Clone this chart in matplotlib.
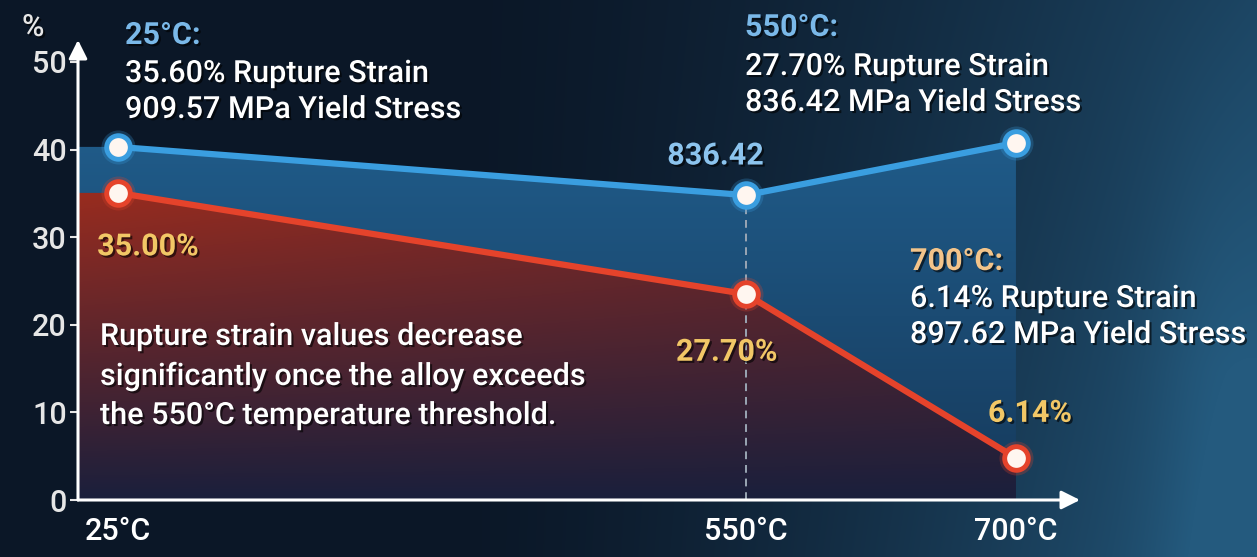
import numpy as np
import matplotlib.pyplot as plt
from matplotlib.patches import Polygon
from matplotlib import patheffects as pe

plt.rcParams['font.family'] = ['Roboto', 'DejaVu Sans']
plt.rcParams['font.weight'] = 'medium'

# data
temps = ["25°C", "550°C", "700°C"]
blue_y = [40.3, 34.8, 40.75]      # yield stress line (plotted height)
red_y = [35.05, 23.5, 4.8]        # rupture strain line (plotted height)
strain_labels = ["35.00%", "27.70%", "6.14%"]
stress_label = "836.42"
yticks = [0, 10, 20, 30, 40, 50]

# layout (figure pixels)
W, H = 1257, 557
x_pos = [0.0, 1.0, 1.43]
XLIM = (-0.0637, 1.532)
YLIM = (0, 52.5)

fig = plt.figure(figsize=(W / 100, H / 100), dpi=100)

# background gradient
bg = fig.add_axes([0, 0, 1, 1])
gx, gy = np.meshgrid(np.linspace(0, 1, W), np.linspace(0, 1, H))
dark = np.array([0x0b, 0x17, 0x27]) / 255
light = np.array([0x24, 0x5a, 0x7e]) / 255
t = np.clip((gx - 0.35) / 0.65, 0, 1) ** 1.5 * (0.7 + 0.3 * gy)
t += 0.15 * np.exp(-((gx - 0.97) ** 2) / 0.003) * np.clip(gy * 1.5, 0, 1)
t = np.clip(t, 0, 1)
img = dark * (1 - t[..., None]) + light * t[..., None]
bg.imshow(img, aspect='auto', extent=[0, 1, 0, 1], origin='upper')
bg.axis('off')

ax = fig.add_axes([78 / W, 57 / H, 1002 / W, 460 / H])
ax.patch.set_alpha(0)
ax.set_xlim(*XLIM)
ax.set_ylim(*YLIM)

# blue area under the yield stress line
bx = [XLIM[0]] + x_pos + [x_pos[-1], XLIM[0]]
by = [blue_y[0]] + blue_y + [0, 0]
blue_poly = Polygon(np.column_stack([bx, by]), closed=True, facecolor='none', edgecolor='none')
ax.add_patch(blue_poly)
u = np.linspace(0, 1, 200)
top_b = np.array([0x20, 0x5c, 0x8a]) / 255
low_b = np.array([0x16, 0x3a, 0x5c]) / 255
bgrad = np.repeat((low_b * (1 - u[:, None]) + top_b * u[:, None])[:, None, :], 2, axis=1)
im = ax.imshow(bgrad, extent=[XLIM[0], x_pos[-1], 0, 42], aspect='auto', origin='lower', zorder=1)
im.set_clip_path(blue_poly)

# red area under the rupture strain line
rx = [XLIM[0]] + x_pos + [x_pos[-1], XLIM[0]]
ry = [red_y[0]] + red_y + [0, 0]
red_poly = Polygon(np.column_stack([rx, ry]), closed=True, facecolor='none', edgecolor='none')
ax.add_patch(red_poly)
gxx, gyy = np.meshgrid(np.linspace(0, 1, 200), np.linspace(0, 1, 200))
top_r = np.array([0x9c, 0x2c, 0x1e]) / 255
low_r = np.array([0x1a, 0x1f, 0x3c]) / 255
tr = np.clip(gyy ** 1.0 * (1 - 0.35 * gxx), 0, 1)
rgrad = low_r * (1 - tr[..., None]) + top_r * tr[..., None]
im2 = ax.imshow(rgrad, extent=[XLIM[0], x_pos[-1], 0, 36], aspect='auto', origin='lower', zorder=2)
im2.set_clip_path(red_poly)

# dashed guide at 550°C
ax.plot([x_pos[1], x_pos[1]], [0, blue_y[1]], color='#9aa6b4', lw=1.4, ls=(0, (4, 3)), zorder=3)

# lines + glowing markers
for ys, col in [(blue_y, '#3a9ee0'), (red_y, '#e5432b')]:
    ax.plot(x_pos, ys, color=col, lw=4.5, zorder=4, solid_capstyle='round')
    ax.scatter(x_pos, ys, s=600, color=col, alpha=0.25, zorder=5, linewidths=0)
    ax.plot(x_pos, ys, ls='none', marker='o', ms=17, mfc='#fff6f0', mec=col, mew=3.5, zorder=6)

# axes with arrows
for sp in ax.spines.values():
    sp.set_visible(False)
ax.annotate('', xy=(0, 1.0), xytext=(0, 0), xycoords='axes fraction',
            arrowprops=dict(arrowstyle='-|>', color='white', lw=2.2, mutation_scale=28, shrinkA=0, shrinkB=0), zorder=7)
ax.annotate('', xy=(1.0, 0), xytext=(0, 0), xycoords='axes fraction',
            arrowprops=dict(arrowstyle='-|>', color='white', lw=2.2, mutation_scale=28, shrinkA=0, shrinkB=0), zorder=7)

ax.set_yticks(yticks)
ax.set_yticklabels([str(v) for v in yticks])
ax.tick_params(axis='y', colors='#e6e6e6', labelsize=22, length=6, width=1.5, pad=2)
ax.set_xticks(x_pos)
ax.set_xticklabels(temps)
ax.tick_params(axis='x', colors='white', labelsize=22, length=0, pad=12)

shadow = [pe.withSimplePatchShadow(offset=(1.5, -1.5), shadow_rgbFace='black', alpha=0.6)]


def ftext(px, py, s, color='white', size=22, **kw):
    # py measured from top, baseline
    fig.text(px / W, 1 - py / H, s, color=color, fontsize=size, va='baseline', path_effects=shadow, **kw)


ftext(22, 36, "%", color='#e6e6e6', size=22)

ftext(125, 44, "25°C:", color='#7ab8e8', fontweight='bold')
ftext(125, 82, "35.60% Rupture Strain")
ftext(125, 118, "909.57 MPa Yield Stress")

ftext(745, 36, "550°C:", color='#7ab8e8', fontweight='bold')
ftext(745, 75, "27.70% Rupture Strain")
ftext(745, 111, "836.42 MPa Yield Stress")

ftext(910, 270, "700°C:", color='#f3c48a', fontweight='bold')
ftext(910, 307, "6.14% Rupture Strain")
ftext(910, 343, "897.62 MPa Yield Stress")

ftext(100, 345, "Rupture strain values decrease")
ftext(100, 385, "significantly once the alloy exceeds")
ftext(100, 424, "the 550°C temperature threshold.")

# point labels
ax.annotate(stress_label, (x_pos[1], blue_y[1]), xytext=(-22, 22), textcoords='offset points',
            ha='center', color='#8cc4ee', fontsize=22, fontweight='bold', path_effects=shadow, zorder=8)
ax.annotate(strain_labels[0], (x_pos[0], red_y[0]), xytext=(-15, -45), textcoords='offset points',
            ha='left', color='#f2c766', fontsize=22, fontweight='bold', path_effects=shadow, zorder=8)
ax.annotate(strain_labels[1], (x_pos[1], red_y[1]), xytext=(-14, -48), textcoords='offset points',
            ha='center', color='#f2c766', fontsize=22, fontweight='bold', path_effects=shadow, zorder=8)
ax.annotate(strain_labels[2], (x_pos[2], red_y[2]), xytext=(10, 26), textcoords='offset points',
            ha='center', color='#f2c766', fontsize=22, fontweight='bold', path_effects=shadow, zorder=8)

fig.savefig("out.png", dpi=100)
